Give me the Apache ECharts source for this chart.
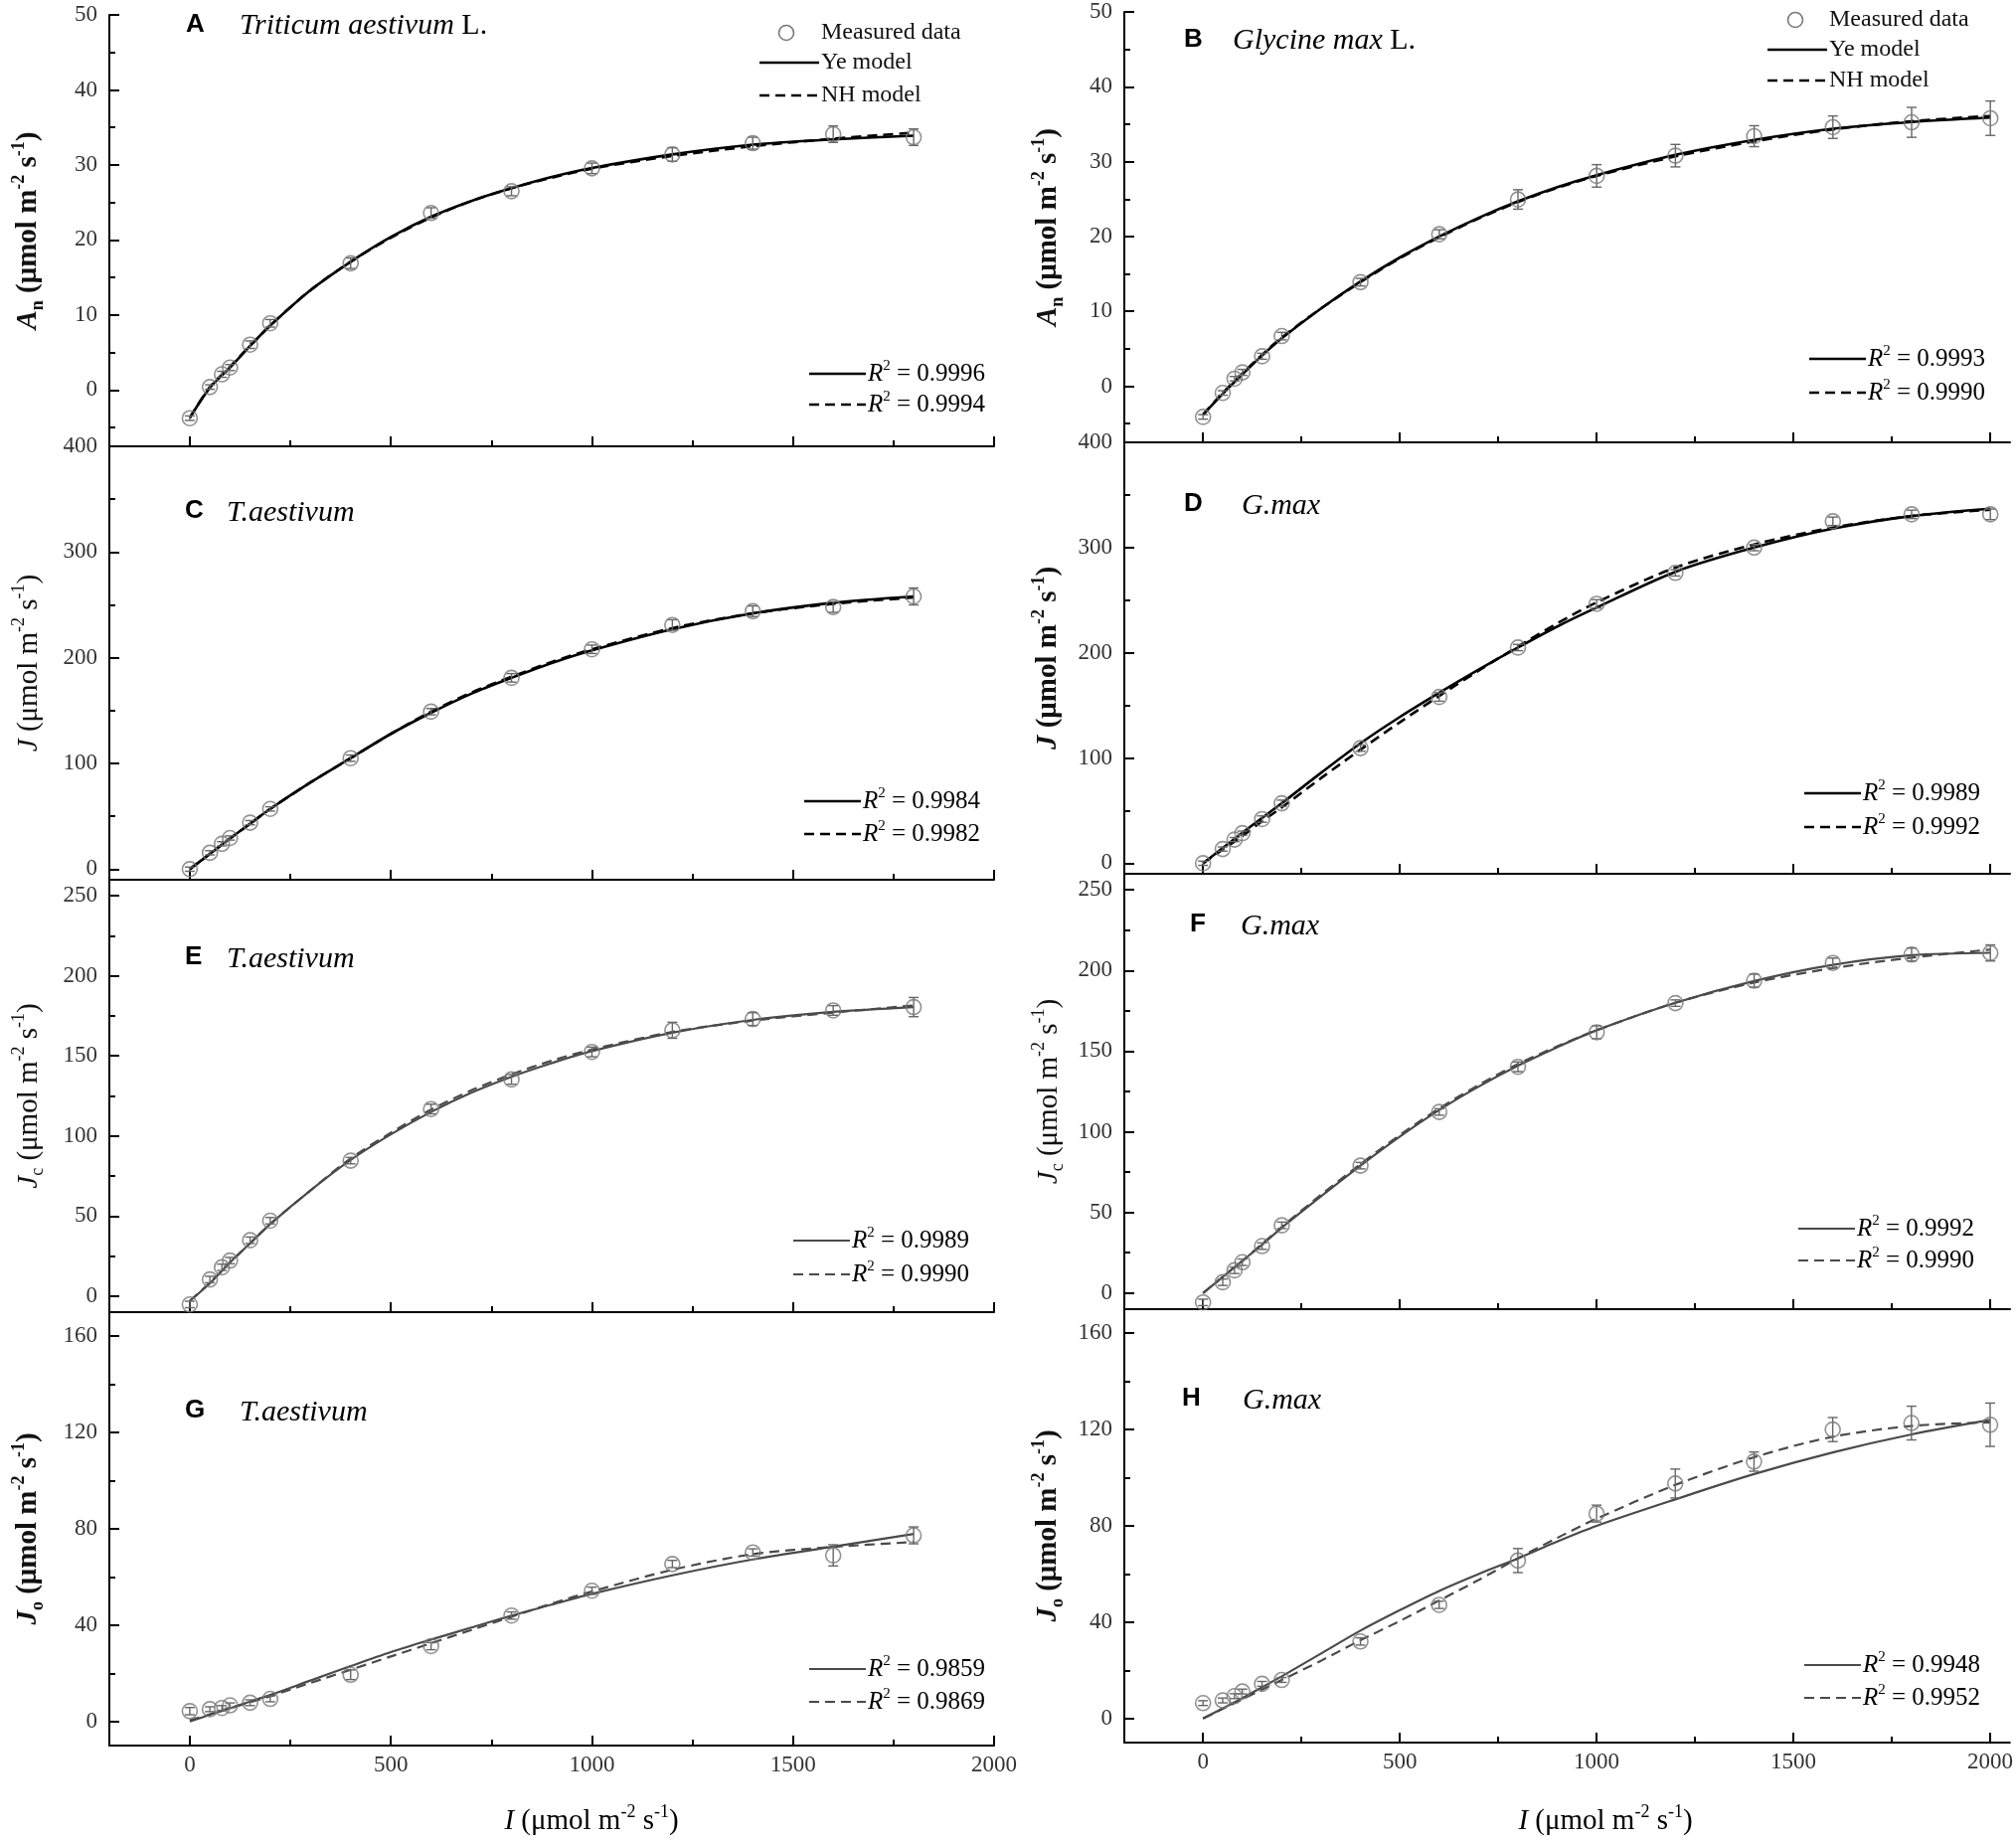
<!DOCTYPE html>
<html><head><meta charset="utf-8">
<script src="https://cdn.jsdelivr.net/npm/echarts@6.0.0/dist/echarts.min.js"></script>
<style>html,body{margin:0;padding:0;background:#fff}#c{width:2028px;height:1851px}</style>
</head><body><div id="c"></div>
<script>
// ---------- data ----------
const I_T = [0,50,80,100,150,200,400,600,800,1000,1200,1400,1600,1800];
const I_G = [0,50,80,100,150,200,400,600,800,1000,1200,1400,1600,1800,2000];
const fitI_T = [0,50,100,150,200,300,400,500,600,700,800,900,1000,1200,1400,1600,1800];
const fitI_G = [0,50,100,150,200,300,400,500,600,700,800,900,1000,1200,1400,1600,1800,2000];

const A_meas = [-3.75,0.4,2.1,3.0,6.05,8.9,16.9,23.6,26.5,29.55,31.4,32.9,34.1,33.7];
const A_err  = [0.3,0.3,0.4,0.4,0.5,0.5,0.7,0.7,0.6,0.7,0.9,0.8,1.1,1.1];
const A_ye   = [-3.7,0.3,3.0,5.9,8.6,13.3,17.1,20.4,23.1,25.2,26.9,28.4,29.6,31.4,32.7,33.4,33.9];
const A_nh   = [-3.7,0.4,3.1,5.9,8.6,13.3,17.1,20.3,23.0,25.2,26.9,28.3,29.5,31.2,32.5,33.5,34.3];

const B_meas = [-4.1,-0.9,1.0,1.85,4.0,6.7,13.9,20.3,24.95,28.1,30.8,33.4,34.6,35.25,35.8];
const B_err  = [0.3,0.3,0.3,0.4,0.4,0.5,0.5,0.6,1.3,1.5,1.5,1.4,1.5,2.0,2.3];
const B_ye   = [-3.8,-1.0,1.6,4.1,6.4,10.4,14.0,17.2,20.0,22.5,24.7,26.6,28.2,30.9,32.9,34.4,35.3,35.9];
const B_nh   = [-3.8,-0.9,1.7,4.2,6.5,10.4,13.9,17.1,19.9,22.4,24.6,26.5,28.1,30.7,32.7,34.3,35.4,36.1];

const C_meas = [0,15.5,24,29.5,44,57,105,149,181,208,231,244,248,258];
const C_err  = [2,2,2,2,2,2,3,3,4,4,5,5,5,8];
const C_ye   = [0,14.5,29,43,57,82,105,128,148,166,181,195,207,227,242,252,258];
const C_nh   = [0,14.5,29,43,57,82,105,128,149,167,182,196,208,228,242,251,257];

const D_meas = [0,13.5,22.5,28.6,42,57,109.4,158,205,246.5,276,300,325,331.6,331.6];
const D_err  = [2,2,2,2,3,3,3,4,3,4,3,3,4,4,5];
const D_ye   = [0,14.5,29,43,57,86,114,139,162,184,205,225,243,277,300,318,330,337];
const D_nh   = [0,13,26,40,53,81,108,134,159,183,206,228,248,281,303,319,330,336];

const E_meas = [-5.2,10.4,18,22.2,34.9,47.1,84.6,116.8,135.3,152.5,166,173,178.4,180.5];
const E_err  = [2,2,2,2,2,2,2,3,3,3,5,4,3,6];
const E_ye   = [-3,8,21,33,45,66,85,101,115,127,137,145.5,153,164.5,172.5,177.5,180.5];
const E_nh   = [-3,8.5,21,33,45,66,86,102,116.5,128.5,138.5,147,154,165,172,177,181.5];

const F_meas = [-5.8,6.7,14.1,19.1,29.1,42,79,112.3,140.3,161.7,179.8,193.7,204.7,209.9,210.9];
const F_err  = [2,2,2,2,2,2,2,2,3,4,2,4,3,4,5];
const F_ye   = [0,10,20,30,40.5,60,79,97,113.5,128,141,152.5,163,180,193.5,203.5,209.5,211];
const F_nh   = [0,10,20,30.5,41,61,80,98,114.5,129,142,153,163,180,192.5,201.5,208,213];

const G_meas = [4.3,5.1,5.6,6.7,7.8,9.4,19.4,31.3,44,54.3,65.4,70.2,69,77.3];
const G_err  = [1.5,1,1,1,1.2,1.2,2,1.5,1.5,1.5,1.5,1.5,4.4,3.5];
const G_ye   = [0,2.8,5.5,8.3,11,17,23,28.8,34,39,44,48.5,53,60.7,67.3,72.6,77.9];
const G_nh   = [0.5,3,5.5,8,10.5,16,21.5,27,32.5,38,43.5,49,54,63,69.5,72.5,74.5];

const H_meas = [6.4,7.5,9.3,11.2,14.4,16,32,47.2,65.6,85.1,97.6,106.7,120,122.7,122];
const H_err  = [1,1,1,1,1,1,1.5,1.5,5,3.5,6,4,5,7,9];
const H_ye   = [0,4.2,8.5,13,17.5,27,36.5,45,53,60,66.5,73.5,80,91,101.5,110.5,118,124];
const H_nh   = [0,4,8,12,16,24,32.5,40.5,49,57.5,66.5,75,83,97,108.5,117,121.5,123];

const R2 = {A:['0.9996','0.9994'],B:['0.9993','0.9990'],C:['0.9984','0.9982'],D:['0.9989','0.9992'],
            E:['0.9989','0.9990'],F:['0.9992','0.9990'],G:['0.9859','0.9869'],H:['0.9948','0.9952']};

// tick labels
const xTicks = [0,500,1000,1500,2000];
const xMinor = [250,750,1250,1750];
const yTicksAn = [0,10,20,30,40,50],      yMinorAn = [-5,5,15,25,35,45];
const yTicksJ  = [0,100,200,300,400],     yMinorJ  = [50,150,250,350];
const yTicksJc = [0,50,100,150,200,250],  yMinorJc = [25,75,125,175,225];
const yTicksJo = [0,40,80,120,160],       yMinorJo = [20,60,100,140];

// ---------- layout / style ----------
const serif = 'Liberation Serif';
const sans = 'Liberation Sans';
const L = {left:110, width:890, xMax:2000, nameX:29};
const R = {left:1131, width:891, xMax:2050, nameX:1055};

const panels = [
 {k:'A', col:L, top:15,   height:434, yr:[-7.5,50], yt:yTicksAn, ym:yMinorAn, I:I_T, fit:fitI_T, m:A_meas, e:A_err, ye:A_ye, nh:A_nh, dark:true, name:'An', bold:true,  bottom:false, species:['Triticum aestivum',' L.']},
 {k:'C', col:L, top:449,  height:436, yr:[-10,400],  yt:yTicksJ,  ym:yMinorJ,  I:I_T, fit:fitI_T, m:C_meas, e:C_err, ye:C_ye, nh:C_nh, dark:true, name:'J',  bold:false, bottom:false, species:['T.aestivum','']},
 {k:'E', col:L, top:885,  height:435, yr:[-10,260],  yt:yTicksJc, ym:yMinorJc, I:I_T, fit:fitI_T, m:E_meas, e:E_err, ye:E_ye, nh:E_nh, dark:false,name:'Jc', bold:false, bottom:false, species:['T.aestivum','']},
 {k:'G', col:L, top:1320, height:436, yr:[-10,170],  yt:yTicksJo, ym:yMinorJo, I:I_T, fit:fitI_T, m:G_meas, e:G_err, ye:G_ye, nh:G_nh, dark:false,name:'Jo', bold:true,  bottom:true,  species:['T.aestivum','']},
 {k:'B', col:R, top:12,   height:433, yr:[-7.5,50], yt:yTicksAn, ym:yMinorAn, I:I_G, fit:fitI_G, m:B_meas, e:B_err, ye:B_ye, nh:B_nh, dark:true, name:'An', bold:true,  bottom:false, species:['Glycine max',' L.']},
 {k:'D', col:R, top:445,  height:434, yr:[-10,400],  yt:yTicksJ,  ym:yMinorJ,  I:I_G, fit:fitI_G, m:D_meas, e:D_err, ye:D_ye, nh:D_nh, dark:true, name:'J',  bold:true,  bottom:false, species:['G.max','']},
 {k:'F', col:R, top:879,  height:438, yr:[-10,260],  yt:yTicksJc, ym:yMinorJc, I:I_G, fit:fitI_G, m:F_meas, e:F_err, ye:F_ye, nh:F_nh, dark:false,name:'Jc', bold:false, bottom:false, species:['G.max','']},
 {k:'H', col:R, top:1317, height:436, yr:[-10,170],  yt:yTicksJo, ym:yMinorJo, I:I_G, fit:fitI_G, m:H_meas, e:H_err, ye:H_ye, nh:H_nh, dark:false,name:'Jo', bold:true,  bottom:true,  species:['G.max','']}
];

const labelPos = {
 A:{lx:187,ly:25,sx:241,sy:26}, B:{lx:1191,ly:40,sx:1240,sy:41},
 C:{lx:186,ly:514,sx:228,sy:516}, D:{lx:1191,ly:507,sx:1249,sy:509},
 E:{lx:186,ly:963,sx:228,sy:965}, F:{lx:1197,ly:930,sx:1248,sy:932},
 G:{lx:186,ly:1419,sx:241,sy:1421}, H:{lx:1189,ly:1407,sx:1250,sy:1409}
};
const r2Pos = {
 A:{x:814,y1:376,y2:407}, B:{x:1820,y1:361,y2:395}, C:{x:809,y1:806,y2:839}, D:{x:1815,y1:798,y2:832},
 E:{x:798,y1:1248,y2:1282}, F:{x:1809,y1:1236,y2:1268}, G:{x:814,y1:1679,y2:1712}, H:{x:1815,y1:1675,y2:1708}
};
const topLegend = {A:{cx:791,lx:764,tx:826,ys:[33,63,96]}, B:{cx:1806,lx:1778,tx:1840,ys:[20,50,81]}};

function richSet(size, weight){
  const s = Math.round(size*0.62);
  return {
    t:{fontFamily:serif,fontSize:size,fontWeight:weight,fill:'#111',color:'#111',lineHeight:size+8},
    i:{fontFamily:serif,fontSize:size,fontWeight:weight,fontStyle:'italic',fill:'#111',color:'#111',lineHeight:size+8},
    sub:{fontFamily:serif,fontSize:s,fontWeight:weight,fill:'#111',color:'#111',verticalAlign:'bottom',lineHeight:s},
    sup:{fontFamily:serif,fontSize:s,fontWeight:weight,fill:'#111',color:'#111',verticalAlign:'top',lineHeight:s}
  };
}
function yName(n){
  const unit = '{t| (μmol m}{sup|-2}{t| s}{sup|-1}{t|)}';
  if(n==='An') return '{i|A}{sub|n}'+unit;
  if(n==='Jc') return '{i|J}{sub|c}'+unit;
  if(n==='Jo') return '{i|J}{sub|o}'+unit;
  return '{i|J}'+unit;
}

const grids=[], xAxes=[], yAxes=[], series=[], graphics=[];
const lineStyleAxis = {color:'#000', width:2};
const tickFont = {fontFamily:serif, fontSize:23, color:'#333', formatter:v=>String(v)};

panels.forEach((p, gi) => {
  grids.push({left:p.col.left, width:p.col.width, top:p.top, height:p.height, containLabel:false});
  xAxes.push({gridIndex:gi, type:'value', position:'bottom', min:-200, max:p.col.xMax,
    axisLine:{onZero:false, lineStyle:lineStyleAxis},
    axisTick:{inside:true, length:10, customValues:xTicks, lineStyle:lineStyleAxis},
    axisLabel:Object.assign({show:p.bottom, customValues:xTicks, margin:8}, tickFont),
    splitLine:{show:false}});
  xAxes.push({gridIndex:gi, type:'value', position:'bottom', min:-200, max:p.col.xMax,
    axisLine:{show:false, onZero:false},
    axisTick:{inside:true, length:6, customValues:xMinor, lineStyle:lineStyleAxis},
    axisLabel:{show:false}, splitLine:{show:false}});
  const weight = p.bold ? 'bold' : 'normal';
  yAxes.push({gridIndex:gi, type:'value', position:'left', min:p.yr[0], max:p.yr[1],
    axisLine:{onZero:false, lineStyle:lineStyleAxis},
    axisTick:{inside:true, length:10, customValues:p.yt, lineStyle:lineStyleAxis},
    axisLabel:Object.assign({customValues:p.yt, margin:12}, tickFont),
    splitLine:{show:false}});
  yAxes.push({gridIndex:gi, type:'value', position:'left', min:p.yr[0], max:p.yr[1],
    axisLine:{show:false, onZero:false},
    axisTick:{inside:true, length:6, customValues:p.ym, lineStyle:lineStyleAxis},
    axisLabel:{show:false}, splitLine:{show:false}});

  // y-axis title (rotated)
  graphics.push({type:'text', x:p.col.nameX, y:p.top + p.height/2, rotation:Math.PI/2,
    style:{x:0, y:0, text:yName(p.name), rich:richSet(29, weight),
      align:'center', verticalAlign:'middle', textAlign:'center', textVerticalAlign:'middle'}});

  const xi = gi*2, yi = gi*2;
  const curveColor = p.dark ? '#000' : '#4a4a4a';
  const curveW = p.dark ? 2.6 : 2.2;
  series.push({type:'custom', xAxisIndex:xi, yAxisIndex:yi, silent:true, z:3,
    data:p.I.map((x,i)=>[x, p.m[i]-p.e[i], p.m[i]+p.e[i]]),
    encode:{x:0, y:[1,2]},
    renderItem:(params, api)=>{
      const x=api.value(0), lo=api.coord([x, api.value(1)]), hi=api.coord([x, api.value(2)]);
      const st={stroke:'#666', lineWidth:1.4};
      return {type:'group', children:[
        {type:'line', shape:{x1:lo[0],y1:lo[1],x2:hi[0],y2:hi[1]}, style:st},
        {type:'line', shape:{x1:lo[0]-5,y1:lo[1],x2:lo[0]+5,y2:lo[1]}, style:st},
        {type:'line', shape:{x1:hi[0]-5,y1:hi[1],x2:hi[0]+5,y2:hi[1]}, style:st}
      ]};
    }});
  series.push({type:'line', xAxisIndex:xi, yAxisIndex:yi, z:2, showSymbol:false, smooth:0.3, silent:true,
    data:p.fit.map((x,i)=>[x,p.ye[i]]), lineStyle:{color:curveColor, width:curveW, type:'solid'}});
  series.push({type:'line', xAxisIndex:xi, yAxisIndex:yi, z:2, showSymbol:false, smooth:0.3, silent:true,
    data:p.fit.map((x,i)=>[x,p.nh[i]]), lineStyle:{color:curveColor, width:curveW, type:[10,6]}});
  series.push({type:'scatter', xAxisIndex:xi, yAxisIndex:yi, z:4, silent:true, symbol:'circle', symbolSize:15,
    data:p.I.map((x,i)=>[x,p.m[i]]),
    itemStyle:{color:'rgba(255,255,255,0)', borderColor:'#777', borderWidth:1.6}});

  // panel letter and species
  const lp = labelPos[p.k];
  graphics.push({type:'text', style:{x:lp.lx, y:lp.ly, text:p.k, font:'bold 26px "'+sans+'"', fill:'#000',
    align:'left', verticalAlign:'middle', textAlign:'left', textVerticalAlign:'middle'}});
  graphics.push({type:'text', style:{x:lp.sx, y:lp.sy, text:'{i|'+p.species[0]+'}'+(p.species[1]?'{t|'+p.species[1]+'}':''),
    rich:{i:{fontFamily:serif,fontSize:30,fontStyle:'italic',color:'#111'}, t:{fontFamily:serif,fontSize:30,color:'#111'}},
    align:'left', verticalAlign:'middle', textAlign:'left', textVerticalAlign:'middle'}});

  // R^2 legend
  const rp = r2Pos[p.k];
  [[rp.y1,'solid',R2[p.k][0]],[rp.y2,'dash',R2[p.k][1]]].forEach(([y,kind,val])=>{
    graphics.push({type:'line', shape:{x1:rp.x, y1:y, x2:rp.x+57, y2:y},
      style:{stroke:curveColor, lineWidth:curveW, lineDash: kind==='dash'?[10,6]:null}});
    graphics.push({type:'text', style:{x:rp.x+59, y:y, text:'{i|R}{sup|2}{t| = '+val+'}',
      rich:{i:{fontFamily:serif,fontSize:25,fontStyle:'italic',color:'#111',lineHeight:30},
            t:{fontFamily:serif,fontSize:25,color:'#111',lineHeight:30},
            sup:{fontFamily:serif,fontSize:15,color:'#111',verticalAlign:'top',lineHeight:15}},
      align:'left', verticalAlign:'middle', textAlign:'left', textVerticalAlign:'middle'}});
  });

  // top legend
  if(topLegend[p.k]){
    const tl = topLegend[p.k];
    graphics.push({type:'circle', shape:{cx:tl.cx, cy:tl.ys[0], r:7.5}, style:{fill:'none', stroke:'#777', lineWidth:1.6}});
    graphics.push({type:'line', shape:{x1:tl.lx, y1:tl.ys[1], x2:tl.lx+60, y2:tl.ys[1]}, style:{stroke:'#000', lineWidth:2.6}});
    graphics.push({type:'line', shape:{x1:tl.lx, y1:tl.ys[2], x2:tl.lx+60, y2:tl.ys[2]}, style:{stroke:'#000', lineWidth:2.6, lineDash:[10,6]}});
    ['Measured data','Ye model','NH model'].forEach((t,i)=>{
      graphics.push({type:'text', style:{x:tl.tx, y:tl.ys[i], text:t, font:'24px "'+serif+'"', fill:'#111',
        align:'left', verticalAlign:'middle', textAlign:'left', textVerticalAlign:'middle'}});
    });
  }
});

// x-axis names
[595, 1615].forEach(cx=>{
  graphics.push({type:'text', style:{x:cx, y:1832, text:'{i|I}{t| (μmol m}{sup|-2}{t| s}{sup|-1}{t|)}',
    rich:{i:{fontFamily:serif,fontSize:29,fontStyle:'italic',color:'#111',lineHeight:36},
          t:{fontFamily:serif,fontSize:29,color:'#111',lineHeight:36},
          sup:{fontFamily:serif,fontSize:18,color:'#111',verticalAlign:'top',lineHeight:18}},
    align:'center', verticalAlign:'middle', textAlign:'center', textVerticalAlign:'middle'}});
});

const chart = echarts.init(document.getElementById('c'), null, {renderer:'canvas'});
chart.setOption({
  animation:false, backgroundColor:'#fff',
  textStyle:{fontFamily:serif},
  grid:grids, xAxis:xAxes, yAxis:yAxes, series:series,
  graphic:{elements:graphics}
});
</script></body></html>
